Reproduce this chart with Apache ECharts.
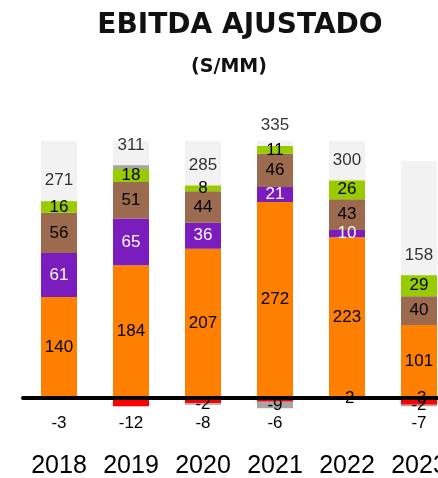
<!DOCTYPE html>
<html><head><meta charset="utf-8">
<script src="https://cdn.jsdelivr.net/npm/echarts@6/dist/echarts.min.js"></script>
<style>html,body{margin:0;padding:0;background:#fff}#c{width:438px;height:478px}</style>
</head><body><div id="c"></div>
<script>
const years = ['2018','2019','2020','2021','2022','2023'];
const orange = [140,184,207,272,223,101];
const purple = [61,65,36,21,10,null];
const brown = [56,51,44,46,43,40];
const green = [16,18,8,11,26,29];
const grayPos = [null,5,null,null,null,null];
const negRed = [-3,-12,-8,-6,null,-7];
const negGray = [null,null,-2,-9,-2,-2];
const negRed2 = [null,null,null,null,null,-3];
const totals = [271,311,285,335,300,158];
const background = [357,357,357,357,357,329];

const FONT = 'Liberation Sans';
const posTop = years.map((_, i) => [orange,purple,brown,green,grayPos].reduce((s,a)=>s+(a[i]||0),0));

function barSeries(name, data, color, labelColor, showLabel, fontSize){
  return {
    name, type:'bar', stack:'a', data, barWidth:36, barGap:'-100%',
    itemStyle:{color},
    label:{show:showLabel, position:'inside', color:labelColor, fontFamily:FONT, fontSize:fontSize||17,
      formatter: p => (p.value == null ? '' : String(p.value))},
    emphasis:{disabled:true}
  };
}

const chart = echarts.init(document.getElementById('c'));
chart.setOption({
  animation:false,
  graphic:[
    {type:'text', x:240, y:26, style:{text:'EBITDA AJUSTADO', font:'bold 28px "DejaVu Sans"', fill:'#111', textAlign:'center', textVerticalAlign:'middle'}},
    {type:'text', x:229, y:67, style:{text:'(S/MM)', font:'bold 19px "DejaVu Sans"', fill:'#111', textAlign:'center', textVerticalAlign:'middle'}}
  ],
  grid:{left:23, right:-17, top:110, bottom:69, containLabel:false, outerBoundsMode:'none'},
  xAxis:{
    type:'category', data:years, z:10,
    axisTick:{show:false},
    axisLine:{onZero:true, lineStyle:{color:'#000', width:4}},
    axisLabel:{
      margin:4, interval:0, hideOverlap:false,
      formatter:(v,i)=>'{n|'+(negRed[i]==null?' ':negRed[i])+'}\n{y|'+v+'}',
      rich:{
        n:{fontFamily:FONT, fontSize:17, color:'#000', lineHeight:20},
        y:{fontFamily:FONT, fontSize:25, color:'#000', lineHeight:66}
      }
    }
  },
  yAxis:{type:'value', min:-16, max:400, show:false},
  series:[
    {name:'bg', type:'bar', data:background, barWidth:36, barGap:'-100%', itemStyle:{color:'#f2f2f2'}, silent:true},
    barSeries('A', orange, '#ff8000', '#000', true),
    barSeries('B', purple, '#7b1cbf', '#fff', true),
    barSeries('C', brown, '#9c6b4f', '#000', true),
    barSeries('D', green, '#99cc00', '#000', true),
    barSeries('E', grayPos, '#a6a6a6', '#000', false),
    barSeries('H', negRed2, '#ff0000', '#000', true, 17),
    barSeries('F', negRed, '#ff0000', '#000', false),
    barSeries('G', negGray, '#a6a6a6', '#000', true, 17),
    {name:'total', type:'scatter', symbolSize:0, data:posTop, z:5,
      label:{show:true, position:'top', distance:12, fontFamily:FONT, fontSize:17, color:'#000',
        formatter:p=>String(totals[p.dataIndex])}}
  ]
});
</script></body></html>
